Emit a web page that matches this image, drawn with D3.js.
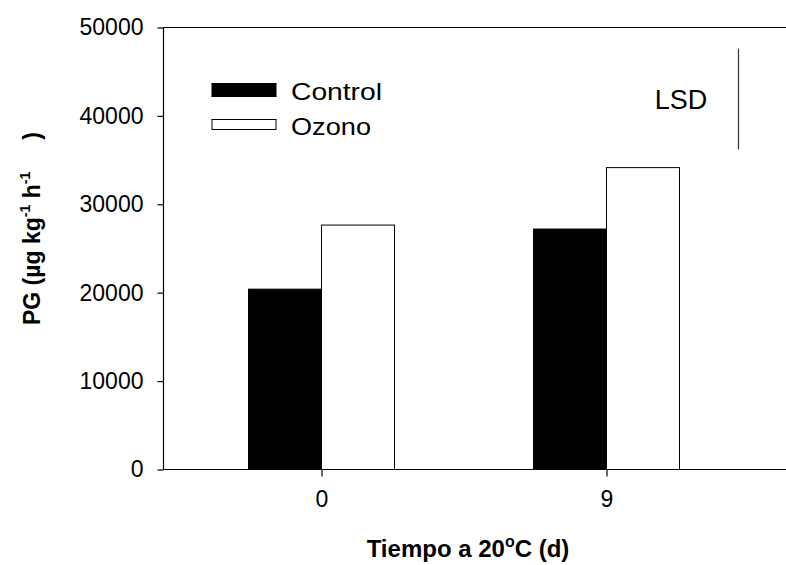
<!DOCTYPE html>
<html>
<head>
<meta charset="utf-8">
<script src="https://cdn.jsdelivr.net/npm/d3@7"></script>
<style>
  body { margin: 0; background: #fff; }
  svg { font-family: "Liberation Sans", Arial, sans-serif; }
</style>
</head>
<body>
<div id="chart"></div>
<script>
const days = ["0", "9"];
const control = [20400, 27200];
const ozono = [27650, 34150];
const yTicks = [0, 10000, 20000, 30000, 40000, 50000];
const lsdTop = 47600;
const lsdValue = 11400;

const w = 786;
const h = 565;
const padLeft = 163.5;
const padTop = 27.5;
const padBottom = 469.5;
const bw = 73;

const svg = d3.select("#chart").append("svg").attr("width", w).attr("height", h);

const x = d3.scalePoint().domain(days).range([321.5, 606.5]);
const y = d3.scaleLinear().domain([0, 50000]).range([padBottom, padTop]);

// bars
const groups = svg.selectAll("g.day").data(days).enter().append("g").attr("class", "day");
groups.append("rect")
  .attr("x", (d) => x(d) - bw)
  .attr("y", (d, i) => y(control[i]))
  .attr("width", bw)
  .attr("height", (d, i) => padBottom - y(control[i]))
  .attr("fill", "#000")
  .attr("stroke", "#000");
groups.append("rect")
  .attr("x", (d) => x(d))
  .attr("y", (d, i) => y(ozono[i]))
  .attr("width", bw)
  .attr("height", (d, i) => padBottom - y(ozono[i]))
  .attr("fill", "#fff")
  .attr("stroke", "#000")
  .attr("stroke-width", 1);

// axes
const yAxis = svg.append("g")
  .attr("transform", `translate(${padLeft},0)`)
  .call(d3.axisLeft(y).tickValues(yTicks).tickSize(6).tickPadding(14).tickFormat(d3.format("d")));
const xAxis = svg.append("g")
  .attr("transform", `translate(0,${padBottom})`)
  .call(d3.axisBottom(x).tickSize(7).tickPadding(14));
xAxis.select(".domain").attr("d", `M${padLeft},0H${w}`);
yAxis.select(".domain").attr("d", `M0,${padBottom}V${padTop}`);
[xAxis, yAxis].forEach((a) => {
  a.selectAll("text").attr("font-size", 23).attr("fill", "#000").attr("font-family", "Liberation Sans, Arial, sans-serif");
  a.selectAll("line, path").attr("stroke", "#000").attr("stroke-width", 1.2);
});

// top frame line
svg.append("line")
  .attr("x1", padLeft).attr("x2", w)
  .attr("y1", y(50000)).attr("y2", y(50000))
  .attr("stroke", "#000").attr("stroke-width", 1.2);

// LSD bar
svg.append("line")
  .attr("x1", 738.5).attr("x2", 738.5)
  .attr("y1", y(lsdTop)).attr("y2", y(lsdTop - lsdValue))
  .attr("stroke", "#333").attr("stroke-width", 1.2);
svg.append("text")
  .attr("x", 681).attr("y", 109)
  .attr("text-anchor", "middle")
  .attr("font-size", 27)
  .text("LSD");

// legend
const legend = [
  { name: "Control", fill: "#000", y: 83.5, hgt: 13, len: 91 },
  { name: "Ozono", fill: "#fff", y: 119.5, hgt: 10, len: 80 }
];
const lg = svg.selectAll("g.leg").data(legend).enter().append("g").attr("class", "leg");
lg.append("rect")
  .attr("x", 212).attr("y", (d) => d.y)
  .attr("width", 64).attr("height", (d) => d.hgt)
  .attr("fill", (d) => d.fill).attr("stroke", "#000");
lg.append("text")
  .attr("x", 291).attr("y", (d, i) => 99.5 + i * 35.5)
  .attr("font-size", 24)
  .attr("textLength", (d) => d.len)
  .attr("lengthAdjust", "spacingAndGlyphs")
  .text((d) => d.name);

// axis titles
const xt = svg.append("text")
  .attr("x", 468).attr("y", 557)
  .attr("text-anchor", "middle")
  .attr("font-size", 24).attr("font-weight", "bold");
xt.append("tspan").text("Tiempo a 20");
xt.append("tspan").attr("font-size", 16).attr("dy", -10).text("o");
xt.append("tspan").attr("dy", 10).text("C (d)");

const yt = svg.append("text")
  .attr("transform", "translate(40,325) rotate(-90)")
  .attr("text-anchor", "start")
  .attr("font-size", 23).attr("font-weight", "bold");
yt.append("tspan").text("PG (µg kg");
yt.append("tspan").attr("font-size", 14).attr("dy", -10).text("-1");
yt.append("tspan").attr("dy", 10).text(" h");
yt.append("tspan").attr("font-size", 14).attr("dy", -10).text("-1");
yt.append("tspan").attr("dy", 10).attr("dx", 32).text(")");
</script>
</body>
</html>
